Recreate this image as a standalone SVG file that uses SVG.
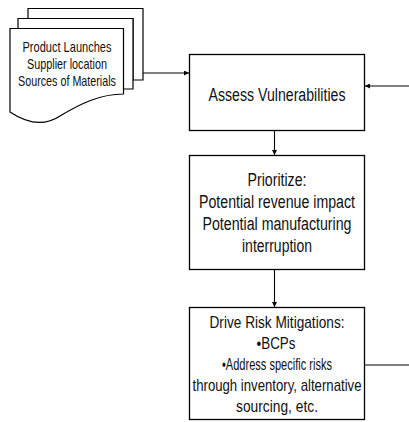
<svg xmlns="http://www.w3.org/2000/svg" width="409" height="422" viewBox="0 0 409 422">
<style>
.box{fill:#fff;stroke:#000;stroke-width:1.3}
.pg{fill:#fff;stroke:#000;stroke-width:1.2}
.ln{fill:none;stroke:#000;stroke-width:1.1}
.t{font-family:"Liberation Sans",Arial,sans-serif;fill:#111;text-anchor:middle}
.s{font-size:14.5px}
.m{font-size:18px}
.d{font-size:17px}
</style>
<defs>
<marker id="ah" viewBox="0 0 10 10" refX="10" refY="5" markerWidth="5" markerHeight="5" markerUnits="userSpaceOnUse" orient="auto">
<path d="M0,0 L10,5 L0,10 z" fill="#000"/>
</marker>
</defs>
<g id="documents">
<path class="pg" d="M28,8.5 H143 V80 H133 V18.5 H28 Z"/>
<path class="pg" d="M18,18.5 H133 V89 H123 V28.5 H18 Z"/>
<path class="pg" d="M10,28.5 H123.5 V94 C100,94 80,104 60,116 C45,126 28,124 10,112 Z"/>
<text class="t s" x="67" y="52" textLength="89" lengthAdjust="spacingAndGlyphs">Product Launches</text>
<text class="t s" x="67" y="69" textLength="80" lengthAdjust="spacingAndGlyphs">Supplier location</text>
<text class="t s" x="67" y="86" textLength="98" lengthAdjust="spacingAndGlyphs">Sources of Materials</text>
</g>
<g id="assess">
<rect class="box" x="189.5" y="54.5" width="175" height="76"/>
<text class="t m" x="277" y="101" textLength="137" lengthAdjust="spacingAndGlyphs">Assess Vulnerabilities</text>
</g>
<g id="prioritize">
<rect class="box" x="189.5" y="155.5" width="175" height="114"/>
<text class="t m" x="277" y="186" textLength="59" lengthAdjust="spacingAndGlyphs">Prioritize:</text>
<text class="t m" x="277" y="208" textLength="156" lengthAdjust="spacingAndGlyphs">Potential revenue impact</text>
<text class="t m" x="277" y="230" textLength="149" lengthAdjust="spacingAndGlyphs">Potential manufacturing</text>
<text class="t m" x="277" y="252" textLength="70" lengthAdjust="spacingAndGlyphs">interruption</text>
</g>
<g id="drive">
<rect class="box" x="189.5" y="307.5" width="175" height="112"/>
<text class="t d" x="277" y="328" textLength="135" lengthAdjust="spacingAndGlyphs">Drive Risk Mitigations:</text>
<text class="t d" x="276" y="349" textLength="39" lengthAdjust="spacingAndGlyphs">•BCPs</text>
<text class="t d" x="277" y="370" textLength="110" lengthAdjust="spacingAndGlyphs">•Address specific risks</text>
<text class="t d" x="277" y="391" textLength="169" lengthAdjust="spacingAndGlyphs">through inventory, alternative</text>
<text class="t d" x="277" y="412" textLength="82" lengthAdjust="spacingAndGlyphs">sourcing, etc.</text>
</g>
<g id="connectors">
<line class="ln" x1="143" y1="73" x2="189" y2="73" marker-end="url(#ah)"/>
<line class="ln" x1="409" y1="86" x2="365" y2="86" marker-end="url(#ah)"/>
<line class="ln" x1="274.5" y1="131" x2="274.5" y2="155" marker-end="url(#ah)"/>
<line class="ln" x1="274.5" y1="270" x2="274.5" y2="307" marker-end="url(#ah)"/>
<line class="ln" x1="365" y1="365" x2="409" y2="365"/>
</g>
</svg>
